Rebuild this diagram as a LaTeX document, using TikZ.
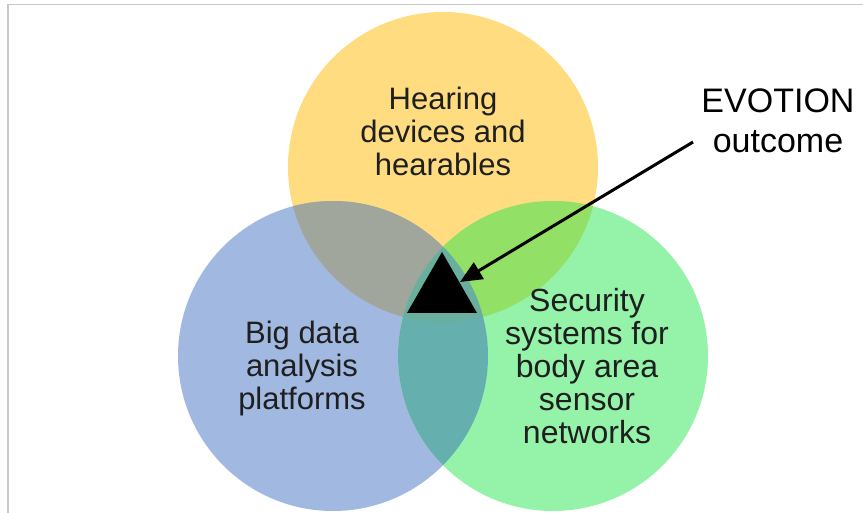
\documentclass[tikz,border=0pt]{standalone}
\usepackage{fontspec}
\setmainfont{Liberation Sans}
\usetikzlibrary{arrows.meta}
\definecolor{hearcol}{HTML}{FFDC80}
\definecolor{datacol}{HTML}{A1B8E1}
\definecolor{seccol}{HTML}{94F2A9}
\definecolor{hdcol}{HTML}{A0A69B}
\definecolor{hscol}{HTML}{93E066}
\definecolor{dscol}{HTML}{66AFAF}
\definecolor{allcol}{HTML}{6AAE9E}
\definecolor{framecol}{HTML}{C8C8C8}
\tikzset{
  setlabel/.style={align=center, inner sep=0pt, font=\fontsize{31}{33}\selectfont, text=black!88},
  outlabel/.style={align=center, inner sep=0pt, font=\fontsize{34}{40}\selectfont, text=black},
  pointer/.style={line width=3pt, -{Triangle[length=22pt,width=19pt]}}
}
\begin{document}
\begin{tikzpicture}[x=1pt,y=-1pt]
  \useasboundingbox (0,0) rectangle (863,513);
  \fill[white] (0,0) rectangle (863,513);
  % frame lines
  \draw[framecol, line width=1.5pt] (8,513) -- (8,4.5) -- (863,4.5);

  % the three sets
  \coordinate (ch) at (443,167);
  \coordinate (cd) at (333,356);
  \coordinate (cs) at (553,356);
  \def\rad{155pt}
  \fill[hearcol] (ch) circle (\rad);
  \fill[datacol] (cd) circle (\rad);
  \fill[seccol] (cs) circle (\rad);
  % pairwise overlaps
  \begin{scope}
    \clip (ch) circle (\rad);
    \fill[hdcol] (cd) circle (\rad);
  \end{scope}
  \begin{scope}
    \clip (ch) circle (\rad);
    \fill[hscol] (cs) circle (\rad);
  \end{scope}
  \begin{scope}
    \clip (cd) circle (\rad);
    \fill[dscol] (cs) circle (\rad);
  \end{scope}
  % common region
  \begin{scope}
    \clip (ch) circle (\rad);
    \clip (cd) circle (\rad);
    \fill[allcol] (cs) circle (\rad);
  \end{scope}

  % outcome marker
  \coordinate (ta) at (442,252);
  \coordinate (tr) at (477,313);
  \coordinate (tl) at (407,313);
  \fill[black] (ta) -- (tr) -- (tl) -- cycle;

  % labels
  \node[setlabel] (hear) at (443,131) {Hearing\\devices and\\hearables};
  \node[setlabel] (data) at (302,368) {Big data\\analysis\\platforms};
  \node[setlabel, font=\fontsize{32}{33}\selectfont] (sec) at (587,366) {Security\\systems for\\body area\\sensor\\networks};
  \node[outlabel] (evo) at (778,121) {EVOTION\\outcome};

  % arrow to the outcome
  \coordinate (tail) at (693,142);
  \coordinate (tip) at (460,282);
  \draw[pointer] (tail) -- (tip);
\end{tikzpicture}
\end{document}
